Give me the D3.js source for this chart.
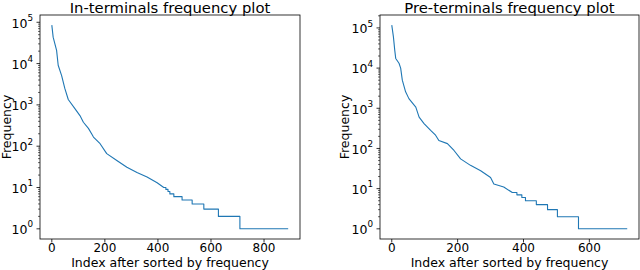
<!DOCTYPE html>
<html>
<head>
<meta charset="utf-8">
<script src="https://cdn.jsdelivr.net/npm/d3@7"></script>
<style>
  body { margin: 0; background: #fff; }
  svg { display: block; font-family: "DejaVu Sans", sans-serif; }
</style>
</head>
<body>
<div id="chart"></div>
<script>
// In-terminals: sorted frequency (index, count)
const inIdx  = [0, 5, 18, 24, 37, 49, 62, 87, 106, 119, 138, 150, 157, 182, 207, 245, 283, 321, 359, 397, 422,
                430, 430, 438, 438, 445, 445, 460, 460, 491, 491, 529, 529, 573, 573, 628, 628, 709, 709, 891];
const inFreq = [85000, 43600, 20900, 9100, 5100, 2500, 1350, 810, 550, 380, 270, 200, 166, 115, 66, 45, 31, 23, 18, 13, 10,
                10, 9, 9, 8, 8, 7, 7, 6, 6, 5, 5, 4, 4, 3, 3, 2, 2, 1, 1];

// Pre-terminals
const preIdx  = [0, 5, 9, 12, 22, 27, 32, 42, 52, 73, 83, 98, 118, 133, 143, 169, 189, 209, 239, 270, 300, 310, 340, 366,
                 380, 380, 395, 395, 406, 406, 439, 439, 473, 473, 503, 503, 567, 567, 715];
const preFreq = [117000, 60000, 28000, 17400, 13200, 10000, 5000, 2570, 1740, 1070, 600, 417, 282, 214, 158, 132, 89, 55, 38, 28, 19, 13, 11, 8,
                 8, 7, 7, 6, 6, 5, 5, 4, 4, 3, 3, 2, 2, 1, 1];

const titles = ["In-terminals frequency plot", "Pre-terminals frequency plot"];
const inXTicks = [0, 200, 400, 600, 800];
const preXTicks = [0, 200, 400, 600];
const yExps = [0, 1, 2, 3, 4, 5];

const svg = d3.select("#chart").append("svg")
    .attr("width", 640)
    .attr("height", 270);

function drawPanel(att) {
    const g = svg.append("g");
    const data = att.idx.map((d, i) => ({x: d, y: att.freq[i]}));

    // matplotlib-like 5% margins (log space for y)
    const n = d3.max(att.idx);
    const x = d3.scaleLinear()
        .domain([-0.05 * n, 1.05 * n])
        .range([att.left, att.right]);
    const lo = Math.log10(d3.min(att.freq)), hi = Math.log10(d3.max(att.freq));
    const pad = 0.05 * (hi - lo);
    const y = d3.scaleLog()
        .domain([Math.pow(10, lo - pad), Math.pow(10, hi + pad)])
        .range([att.bottom, att.top]);

    // the curve
    g.append("path")
        .datum(data)
        .attr("fill", "none")
        .attr("stroke", "#1f77b4")
        .attr("stroke-width", 1.1)
        .attr("stroke-linejoin", "round")
        .attr("d", d3.line().x(d => x(d.x)).y(d => y(d.y)));

    // frame
    g.append("rect")
        .attr("x", att.left)
        .attr("y", att.top)
        .attr("width", att.right - att.left)
        .attr("height", att.bottom - att.top)
        .attr("fill", "none")
        .attr("stroke", "#000")
        .attr("stroke-width", 0.8);

    // x ticks
    const xt = g.append("g").selectAll("g")
        .data(att.xTicks)
        .join("g")
        .attr("transform", d => "translate(" + x(d) + "," + att.bottom + ")");
    xt.append("line").attr("y2", 3.5).attr("stroke", "#000").attr("stroke-width", 0.8);
    xt.append("text")
        .attr("y", 13)
        .attr("text-anchor", "middle")
        .attr("font-size", 12)
        .text(d => d);

    // minor y ticks
    const minors = [];
    yExps.forEach(e => { for (let k = 2; k <= 9; k++) minors.push(k * Math.pow(10, e)); });
    g.append("g").selectAll("line")
        .data(minors.filter(v => v >= y.domain()[0] && v <= y.domain()[1]))
        .join("line")
        .attr("x1", att.left - 2)
        .attr("x2", att.left)
        .attr("y1", d => y(d))
        .attr("y2", d => y(d))
        .attr("stroke", "#000")
        .attr("stroke-width", 0.6);

    // major y ticks with 10^e labels
    const yt = g.append("g").selectAll("g")
        .data(yExps)
        .join("g")
        .attr("transform", d => "translate(" + att.left + "," + y(Math.pow(10, d)) + ")");
    yt.append("line").attr("x2", -3.5).attr("stroke", "#000").attr("stroke-width", 0.8);
    const lab = yt.append("text")
        .attr("x", -7)
        .attr("dy", "0.42em")
        .attr("text-anchor", "end")
        .attr("font-size", 12.5);
    lab.append("tspan").text("10");
    lab.append("tspan")
        .attr("font-size", 8.8)
        .attr("dy", "-0.75em")
        .text(d => d);

    // title and axis labels
    g.append("text")
        .attr("x", (att.left + att.right) / 2)
        .attr("y", 12.5)
        .attr("text-anchor", "middle")
        .attr("font-size", 14.8)
        .text(att.title);
    g.append("text")
        .attr("x", (att.left + att.right) / 2)
        .attr("y", 266.5)
        .attr("text-anchor", "middle")
        .attr("font-size", 12.5)
        .text("Index after sorted by frequency");
    g.append("text")
        .attr("transform", "translate(" + att.ylabelX + "," + ((att.top + att.bottom) / 2) + ") rotate(-90)")
        .attr("text-anchor", "middle")
        .attr("font-size", 12.5)
        .text("Frequency");
}

drawPanel({idx: inIdx, freq: inFreq, xTicks: inXTicks, title: titles[0],
           left: 40, right: 300, top: 15, bottom: 239, ylabelX: 11});
drawPanel({idx: preIdx, freq: preFreq, xTicks: preXTicks, title: titles[1],
           left: 380, right: 639, top: 15, bottom: 239, ylabelX: 349});
</script>
</body>
</html>
